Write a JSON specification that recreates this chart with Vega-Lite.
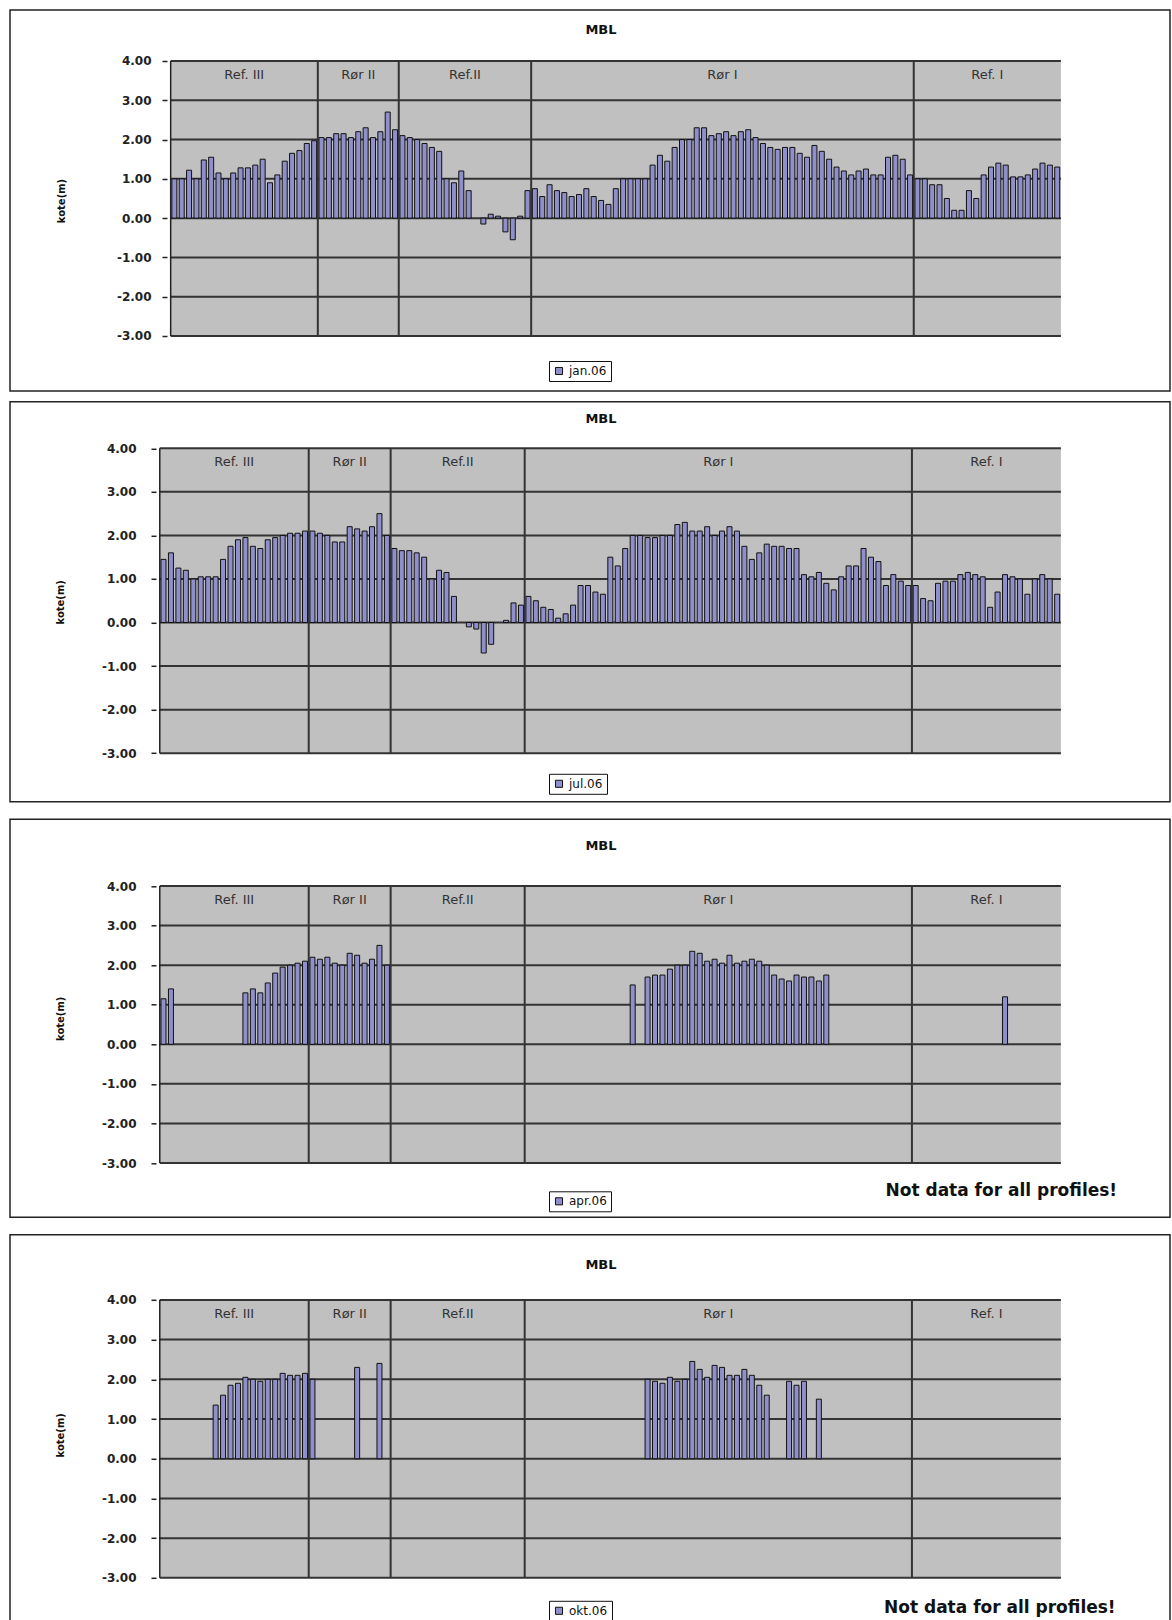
{
  "$schema": "https://vega.github.io/schema/vega-lite/v6.json",
  "background": "white",
  "padding": {"left": 9, "top": 9, "right": 3, "bottom": 0},
  "config": {"view": {"stroke": "#222", "strokeWidth": 1.5, "fill": "white"}, "font": "DejaVu Sans"},
  "datasets": {
    "profiles": [
      {"i":1,"s":"Ref. III","jan":1.0,"jul":1.45,"apr":1.15},
      {"i":2,"s":"Ref. III","jan":1.0,"jul":1.6,"apr":1.4},
      {"i":3,"s":"Ref. III","jan":1.22,"jul":1.25},
      {"i":4,"s":"Ref. III","jan":1.0,"jul":1.2},
      {"i":5,"s":"Ref. III","jan":1.48,"jul":1.0},
      {"i":6,"s":"Ref. III","jan":1.55,"jul":1.05},
      {"i":7,"s":"Ref. III","jan":1.15,"jul":1.05},
      {"i":8,"s":"Ref. III","jan":1.0,"jul":1.05,"okt":1.35},
      {"i":9,"s":"Ref. III","jan":1.15,"jul":1.45,"okt":1.6},
      {"i":10,"s":"Ref. III","jan":1.28,"jul":1.75,"okt":1.85},
      {"i":11,"s":"Ref. III","jan":1.28,"jul":1.9,"okt":1.9},
      {"i":12,"s":"Ref. III","jan":1.35,"jul":1.95,"apr":1.3,"okt":2.05},
      {"i":13,"s":"Ref. III","jan":1.5,"jul":1.75,"apr":1.4,"okt":2.0},
      {"i":14,"s":"Ref. III","jan":0.9,"jul":1.7,"apr":1.3,"okt":1.95},
      {"i":15,"s":"Ref. III","jan":1.1,"jul":1.9,"apr":1.55,"okt":2.0},
      {"i":16,"s":"Ref. III","jan":1.45,"jul":1.95,"apr":1.8,"okt":2.0},
      {"i":17,"s":"Ref. III","jan":1.65,"jul":2.0,"apr":1.95,"okt":2.15},
      {"i":18,"s":"Ref. III","jan":1.72,"jul":2.05,"apr":2.0,"okt":2.1},
      {"i":19,"s":"Ref. III","jan":1.9,"jul":2.05,"apr":2.05,"okt":2.1},
      {"i":20,"s":"Ref. III","jan":1.97,"jul":2.1,"apr":2.1,"okt":2.15},
      {"i":21,"s":"Rør II","jan":2.05,"jul":2.1,"apr":2.2,"okt":2.0},
      {"i":22,"s":"Rør II","jan":2.05,"jul":2.05,"apr":2.15},
      {"i":23,"s":"Rør II","jan":2.15,"jul":2.0,"apr":2.2},
      {"i":24,"s":"Rør II","jan":2.15,"jul":1.85,"apr":2.05},
      {"i":25,"s":"Rør II","jan":2.05,"jul":1.85,"apr":2.0},
      {"i":26,"s":"Rør II","jan":2.2,"jul":2.2,"apr":2.3},
      {"i":27,"s":"Rør II","jan":2.3,"jul":2.15,"apr":2.25,"okt":2.3},
      {"i":28,"s":"Rør II","jan":2.05,"jul":2.1,"apr":2.05},
      {"i":29,"s":"Rør II","jan":2.2,"jul":2.2,"apr":2.15},
      {"i":30,"s":"Rør II","jan":2.7,"jul":2.5,"apr":2.5,"okt":2.4},
      {"i":31,"s":"Rør II","jan":2.25,"jul":2.0,"apr":2.0},
      {"i":32,"s":"Ref.II","jan":2.1,"jul":1.7},
      {"i":33,"s":"Ref.II","jan":2.05,"jul":1.65},
      {"i":34,"s":"Ref.II","jan":2.0,"jul":1.65},
      {"i":35,"s":"Ref.II","jan":1.9,"jul":1.6},
      {"i":36,"s":"Ref.II","jan":1.8,"jul":1.5},
      {"i":37,"s":"Ref.II","jan":1.7,"jul":1.0},
      {"i":38,"s":"Ref.II","jan":1.0,"jul":1.2},
      {"i":39,"s":"Ref.II","jan":0.9,"jul":1.15},
      {"i":40,"s":"Ref.II","jan":1.2,"jul":0.6},
      {"i":41,"s":"Ref.II","jan":0.7},
      {"i":42,"s":"Ref.II","jul":-0.1},
      {"i":43,"s":"Ref.II","jan":-0.15,"jul":-0.15},
      {"i":44,"s":"Ref.II","jan":0.1,"jul":-0.7},
      {"i":45,"s":"Ref.II","jan":0.05,"jul":-0.5},
      {"i":46,"s":"Ref.II","jan":-0.35},
      {"i":47,"s":"Ref.II","jan":-0.55,"jul":0.05},
      {"i":48,"s":"Ref.II","jan":0.05,"jul":0.45},
      {"i":49,"s":"Ref.II","jan":0.7,"jul":0.4},
      {"i":50,"s":"Rør I","jan":0.75,"jul":0.6},
      {"i":51,"s":"Rør I","jan":0.55,"jul":0.5},
      {"i":52,"s":"Rør I","jan":0.85,"jul":0.35},
      {"i":53,"s":"Rør I","jan":0.7,"jul":0.3},
      {"i":54,"s":"Rør I","jan":0.65,"jul":0.1},
      {"i":55,"s":"Rør I","jan":0.55,"jul":0.2},
      {"i":56,"s":"Rør I","jan":0.6,"jul":0.4},
      {"i":57,"s":"Rør I","jan":0.75,"jul":0.85},
      {"i":58,"s":"Rør I","jan":0.55,"jul":0.85},
      {"i":59,"s":"Rør I","jan":0.45,"jul":0.7},
      {"i":60,"s":"Rør I","jan":0.35,"jul":0.65},
      {"i":61,"s":"Rør I","jan":0.75,"jul":1.5},
      {"i":62,"s":"Rør I","jan":1.0,"jul":1.3},
      {"i":63,"s":"Rør I","jan":1.0,"jul":1.7},
      {"i":64,"s":"Rør I","jan":1.0,"jul":2.0,"apr":1.5},
      {"i":65,"s":"Rør I","jan":1.0,"jul":2.0},
      {"i":66,"s":"Rør I","jan":1.35,"jul":1.95,"apr":1.7,"okt":2.0},
      {"i":67,"s":"Rør I","jan":1.6,"jul":1.95,"apr":1.75,"okt":1.95},
      {"i":68,"s":"Rør I","jan":1.45,"jul":2.0,"apr":1.75,"okt":1.9},
      {"i":69,"s":"Rør I","jan":1.8,"jul":2.0,"apr":1.9,"okt":2.05},
      {"i":70,"s":"Rør I","jan":2.0,"jul":2.25,"apr":2.0,"okt":1.95},
      {"i":71,"s":"Rør I","jan":2.0,"jul":2.3,"apr":2.0,"okt":2.0},
      {"i":72,"s":"Rør I","jan":2.3,"jul":2.1,"apr":2.35,"okt":2.45},
      {"i":73,"s":"Rør I","jan":2.3,"jul":2.1,"apr":2.3,"okt":2.25},
      {"i":74,"s":"Rør I","jan":2.1,"jul":2.2,"apr":2.1,"okt":2.05},
      {"i":75,"s":"Rør I","jan":2.15,"jul":2.0,"apr":2.15,"okt":2.35},
      {"i":76,"s":"Rør I","jan":2.2,"jul":2.1,"apr":2.05,"okt":2.3},
      {"i":77,"s":"Rør I","jan":2.1,"jul":2.2,"apr":2.25,"okt":2.1},
      {"i":78,"s":"Rør I","jan":2.2,"jul":2.1,"apr":2.05,"okt":2.1},
      {"i":79,"s":"Rør I","jan":2.25,"jul":1.75,"apr":2.1,"okt":2.25},
      {"i":80,"s":"Rør I","jan":2.05,"jul":1.45,"apr":2.15,"okt":2.1},
      {"i":81,"s":"Rør I","jan":1.9,"jul":1.6,"apr":2.1,"okt":1.85},
      {"i":82,"s":"Rør I","jan":1.8,"jul":1.8,"apr":2.0,"okt":1.6},
      {"i":83,"s":"Rør I","jan":1.75,"jul":1.75,"apr":1.75},
      {"i":84,"s":"Rør I","jan":1.8,"jul":1.75,"apr":1.65},
      {"i":85,"s":"Rør I","jan":1.8,"jul":1.7,"apr":1.6,"okt":1.95},
      {"i":86,"s":"Rør I","jan":1.65,"jul":1.7,"apr":1.75,"okt":1.85},
      {"i":87,"s":"Rør I","jan":1.55,"jul":1.1,"apr":1.7,"okt":1.95},
      {"i":88,"s":"Rør I","jan":1.85,"jul":1.05,"apr":1.7},
      {"i":89,"s":"Rør I","jan":1.7,"jul":1.15,"apr":1.6,"okt":1.5},
      {"i":90,"s":"Rør I","jan":1.5,"jul":0.9,"apr":1.75},
      {"i":91,"s":"Rør I","jan":1.3,"jul":0.75},
      {"i":92,"s":"Rør I","jan":1.2,"jul":1.05},
      {"i":93,"s":"Rør I","jan":1.1,"jul":1.3},
      {"i":94,"s":"Rør I","jan":1.2,"jul":1.3},
      {"i":95,"s":"Rør I","jan":1.25,"jul":1.7},
      {"i":96,"s":"Rør I","jan":1.1,"jul":1.5},
      {"i":97,"s":"Rør I","jan":1.1,"jul":1.4},
      {"i":98,"s":"Rør I","jan":1.55,"jul":0.85},
      {"i":99,"s":"Rør I","jan":1.6,"jul":1.1},
      {"i":100,"s":"Rør I","jan":1.5,"jul":0.95},
      {"i":101,"s":"Rør I","jan":1.1,"jul":0.85},
      {"i":102,"s":"Ref. I","jan":1.0,"jul":0.85},
      {"i":103,"s":"Ref. I","jan":1.0,"jul":0.55},
      {"i":104,"s":"Ref. I","jan":0.85,"jul":0.5},
      {"i":105,"s":"Ref. I","jan":0.85,"jul":0.9},
      {"i":106,"s":"Ref. I","jan":0.5,"jul":0.95},
      {"i":107,"s":"Ref. I","jan":0.2,"jul":0.95},
      {"i":108,"s":"Ref. I","jan":0.2,"jul":1.1},
      {"i":109,"s":"Ref. I","jan":0.7,"jul":1.15},
      {"i":110,"s":"Ref. I","jan":0.5,"jul":1.1},
      {"i":111,"s":"Ref. I","jan":1.1,"jul":1.05},
      {"i":112,"s":"Ref. I","jan":1.3,"jul":0.35},
      {"i":113,"s":"Ref. I","jan":1.4,"jul":0.7},
      {"i":114,"s":"Ref. I","jan":1.35,"jul":1.1,"apr":1.2},
      {"i":115,"s":"Ref. I","jan":1.05,"jul":1.05},
      {"i":116,"s":"Ref. I","jan":1.05,"jul":1.0},
      {"i":117,"s":"Ref. I","jan":1.1,"jul":0.65},
      {"i":118,"s":"Ref. I","jan":1.25,"jul":1.0},
      {"i":119,"s":"Ref. I","jan":1.4,"jul":1.1},
      {"i":120,"s":"Ref. I","jan":1.35,"jul":1.0},
      {"i":121,"s":"Ref. I","jan":1.3,"jul":0.65}
    ],
    "grid": [{"g":-3},{"g":-2},{"g":-1},{"g":0},{"g":1},{"g":2},{"g":3},{"g":4}],
    "bounds": [{"b":20.5},{"b":31.5},{"b":49.5},{"b":101.5}]
  },
  "spacing": 15.3,
  "resolve": {"scale": {"x": "independent", "y": "independent", "color": "independent"}, "legend": {"color": "independent"}},
  "vconcat": [
   {
    "spacing": 8.8,
    "resolve": {"scale": {"x": "independent", "y": "independent", "color": "independent"}, "legend": {"color": "independent"}},
    "vconcat": [
    {
      "width": 1160, "height": 381,
      "title": {"text": "MBL", "offset": -33, "baseline": "middle", "anchor": "middle", "dx": 11, "font": "DejaVu Sans", "fontSize": 13, "fontWeight": "bold", "color": "#111"},
      "layer": [
        {"data": {"values": [{}]}, "mark": {"type": "rect", "fill": "#c0c0c0"},
         "encoding": {
           "x": {"datum": 0.5, "type": "quantitative", "scale": {"domain": [-20.66, 135.65], "nice": false, "zero": false}, "axis": null},
           "x2": {"datum": 121.5},
           "y": {"datum": -3, "type": "quantitative", "scale": {"domain": [-4.400, 5.298], "nice": false, "zero": false},
                 "axis": {"values": [-3,-2,-1,0,1,2,3,4], "labelExpr": "replace(format(datum.value, '.2f'), '\u2212', '-')", "offset": -157, "zindex": 2, "domain": false, "grid": false, "tickSize": 5, "tickColor": "#222", "tickWidth": 1.5, "labelPadding": 11, "labelFont": "DejaVu Sans", "labelFontSize": 12, "labelFontWeight": "bold", "labelColor": "#222", "title": "kote(m)", "titleFont": "DejaVu Sans", "titleFontSize": 10, "titleFontWeight": "bold", "titleColor": "#111", "titlePadding": 50}},
           "y2": {"datum": 4}
         }},
        {"data": {"name": "grid"}, "mark": {"type": "rule", "stroke": "#333", "strokeWidth": 2},
         "encoding": {"y": {"field": "g", "type": "quantitative"}, "x": {"datum": 0.5, "type": "quantitative", "axis": null}, "x2": {"datum": 121.5}}},
        {"data": {"name": "profiles"}, "transform": [{"filter": "isValid(datum.jan)"}],
         "mark": {"type": "bar", "width": 5, "stroke": "#111", "strokeWidth": 1},
         "encoding": {
           "x": {"field": "i", "type": "quantitative", "axis": null},
           "y": {"field": "jan", "type": "quantitative"},
           "color": {"datum": "jan.06", "scale": {"range": ["#8f8fcb"]},
                     "legend": {"orient": "none", "legendX": 539, "legendY": 351, "title": null, "strokeColor": "#111", "fillColor": "white", "padding": 4, "symbolType": "square", "symbolSize": 50, "symbolStrokeColor": "#111", "symbolStrokeWidth": 1, "labelFont": "DejaVu Sans", "labelFontSize": 12, "labelColor": "#111"}}
         }},
        {"data": {"name": "bounds"}, "mark": {"type": "rule", "stroke": "#333", "strokeWidth": 2},
         "encoding": {"x": {"field": "b", "type": "quantitative", "axis": null}, "y": {"datum": -3, "type": "quantitative"}, "y2": {"datum": 4}}},
        {"data": {"values": [{}]}, "mark": {"type": "rule", "stroke": "#222", "strokeWidth": 1.5},
         "encoding": {"x": {"datum": 0.5, "type": "quantitative", "axis": null}, "y": {"datum": -3, "type": "quantitative"}, "y2": {"datum": 4}}},
        {"data": {"name": "profiles"}, "mark": {"type": "text", "font": "DejaVu Sans", "fontSize": 13, "color": "#333", "baseline": "middle"},
         "encoding": {"x": {"aggregate": "mean", "field": "i", "type": "quantitative", "axis": null}, "y": {"datum": 3.65, "type": "quantitative"}, "text": {"field": "s", "type": "nominal"}}}
      ]
    },
    {
      "width": 1160, "height": 400,
      "title": {"text": "MBL", "offset": -30.6, "baseline": "middle", "anchor": "middle", "dx": 11, "font": "DejaVu Sans", "fontSize": 13, "fontWeight": "bold", "color": "#111"},
      "layer": [
        {"data": {"values": [{}]}, "mark": {"type": "rect", "fill": "#c0c0c0"},
         "encoding": {
           "x": {"datum": 0.5, "type": "quantitative", "scale": {"domain": [-18.94, 135.48], "nice": false, "zero": false}, "axis": null},
           "x2": {"datum": 121.5},
           "y": {"datum": -3, "type": "quantitative", "scale": {"domain": [-4.116, 5.068], "nice": false, "zero": false},
                 "axis": {"values": [-3,-2,-1,0,1,2,3,4], "labelExpr": "replace(format(datum.value, '.2f'), '\u2212', '-')", "offset": -146, "zindex": 2, "domain": false, "grid": false, "tickSize": 5, "tickColor": "#222", "tickWidth": 1.5, "labelPadding": 15, "labelFont": "DejaVu Sans", "labelFontSize": 12, "labelFontWeight": "bold", "labelColor": "#222", "title": "kote(m)", "titleFont": "DejaVu Sans", "titleFontSize": 10, "titleFontWeight": "bold", "titleColor": "#111", "titlePadding": 36}},
           "y2": {"datum": 4}
         }},
        {"data": {"name": "grid"}, "mark": {"type": "rule", "stroke": "#333", "strokeWidth": 2},
         "encoding": {"y": {"field": "g", "type": "quantitative"}, "x": {"datum": 0.5, "type": "quantitative", "axis": null}, "x2": {"datum": 121.5}}},
        {"data": {"name": "profiles"}, "transform": [{"filter": "isValid(datum.jul)"}],
         "mark": {"type": "bar", "width": 5, "stroke": "#111", "strokeWidth": 1},
         "encoding": {
           "x": {"field": "i", "type": "quantitative", "axis": null},
           "y": {"field": "jul", "type": "quantitative"},
           "color": {"datum": "jul.06", "scale": {"range": ["#8f8fcb"]},
                     "legend": {"orient": "none", "legendX": 539, "legendY": 372, "title": null, "strokeColor": "#111", "fillColor": "white", "padding": 4, "symbolType": "square", "symbolSize": 50, "symbolStrokeColor": "#111", "symbolStrokeWidth": 1, "labelFont": "DejaVu Sans", "labelFontSize": 12, "labelColor": "#111"}}
         }},
        {"data": {"name": "bounds"}, "mark": {"type": "rule", "stroke": "#333", "strokeWidth": 2},
         "encoding": {"x": {"field": "b", "type": "quantitative", "axis": null}, "y": {"datum": -3, "type": "quantitative"}, "y2": {"datum": 4}}},
        {"data": {"values": [{}]}, "mark": {"type": "rule", "stroke": "#222", "strokeWidth": 1.5},
         "encoding": {"x": {"datum": 0.5, "type": "quantitative", "axis": null}, "y": {"datum": -3, "type": "quantitative"}, "y2": {"datum": 4}}},
        {"data": {"name": "profiles"}, "mark": {"type": "text", "font": "DejaVu Sans", "fontSize": 13, "color": "#333", "baseline": "middle"},
         "encoding": {"x": {"aggregate": "mean", "field": "i", "type": "quantitative", "axis": null}, "y": {"datum": 3.68, "type": "quantitative"}, "text": {"field": "s", "type": "nominal"}}}
      ]
    }
    ]
   },
   {
    "spacing": 15.5,
    "resolve": {"scale": {"x": "independent", "y": "independent", "color": "independent"}, "legend": {"color": "independent"}},
    "vconcat": [
    {
      "width": 1160, "height": 398,
      "title": {"text": "MBL", "offset": -39.4, "baseline": "middle", "anchor": "middle", "dx": 11, "font": "DejaVu Sans", "fontSize": 13, "fontWeight": "bold", "color": "#111"},
      "layer": [
        {"data": {"values": [{}]}, "mark": {"type": "rect", "fill": "#c0c0c0"},
         "encoding": {
           "x": {"datum": 0.5, "type": "quantitative", "scale": {"domain": [-18.94, 135.48], "nice": false, "zero": false}, "axis": null},
           "x2": {"datum": 121.5},
           "y": {"datum": -3, "type": "quantitative", "scale": {"domain": [-4.372, 5.686], "nice": false, "zero": false},
                 "axis": {"values": [-3,-2,-1,0,1,2,3,4], "labelExpr": "replace(format(datum.value, '.2f'), '\u2212', '-')", "offset": -146, "zindex": 2, "domain": false, "grid": false, "tickSize": 5, "tickColor": "#222", "tickWidth": 1.5, "labelPadding": 15, "labelFont": "DejaVu Sans", "labelFontSize": 12, "labelFontWeight": "bold", "labelColor": "#222", "title": "kote(m)", "titleFont": "DejaVu Sans", "titleFontSize": 10, "titleFontWeight": "bold", "titleColor": "#111", "titlePadding": 36}},
           "y2": {"datum": 4}
         }},
        {"data": {"name": "grid"}, "mark": {"type": "rule", "stroke": "#333", "strokeWidth": 2},
         "encoding": {"y": {"field": "g", "type": "quantitative"}, "x": {"datum": 0.5, "type": "quantitative", "axis": null}, "x2": {"datum": 121.5}}},
        {"data": {"name": "profiles"}, "transform": [{"filter": "isValid(datum.apr)"}],
         "mark": {"type": "bar", "width": 5, "stroke": "#111", "strokeWidth": 1},
         "encoding": {
           "x": {"field": "i", "type": "quantitative", "axis": null},
           "y": {"field": "apr", "type": "quantitative"},
           "color": {"datum": "apr.06", "scale": {"range": ["#8f8fcb"]},
                     "legend": {"orient": "none", "legendX": 539, "legendY": 372, "title": null, "strokeColor": "#111", "fillColor": "white", "padding": 4, "symbolType": "square", "symbolSize": 50, "symbolStrokeColor": "#111", "symbolStrokeWidth": 1, "labelFont": "DejaVu Sans", "labelFontSize": 12, "labelColor": "#111"}}
         }},
        {"data": {"name": "bounds"}, "mark": {"type": "rule", "stroke": "#333", "strokeWidth": 2},
         "encoding": {"x": {"field": "b", "type": "quantitative", "axis": null}, "y": {"datum": -3, "type": "quantitative"}, "y2": {"datum": 4}}},
        {"data": {"values": [{}]}, "mark": {"type": "rule", "stroke": "#222", "strokeWidth": 1.5},
         "encoding": {"x": {"datum": 0.5, "type": "quantitative", "axis": null}, "y": {"datum": -3, "type": "quantitative"}, "y2": {"datum": 4}}},
        {"data": {"name": "profiles"}, "mark": {"type": "text", "font": "DejaVu Sans", "fontSize": 13, "color": "#333", "baseline": "middle"},
         "encoding": {"x": {"aggregate": "mean", "field": "i", "type": "quantitative", "axis": null}, "y": {"datum": 3.65, "type": "quantitative"}, "text": {"field": "s", "type": "nominal"}}},
        {"data": {"values": [{}]}, "mark": {"type": "text", "font": "DejaVu Sans", "fontSize": 17, "fontWeight": "bold", "color": "#111", "baseline": "middle", "align": "center"},
         "encoding": {"x": {"datum": 113.5, "type": "quantitative", "axis": null}, "y": {"datum": -3.7, "type": "quantitative"}, "text": {"value": "Not data for all profiles!"}}}
      ]
    },
    {
      "width": 1160, "height": 400,
      "title": {"text": "MBL", "offset": -43, "baseline": "middle", "anchor": "middle", "dx": 11, "font": "DejaVu Sans", "fontSize": 13, "fontWeight": "bold", "color": "#111"},
      "layer": [
        {"data": {"values": [{}]}, "mark": {"type": "rect", "fill": "#c0c0c0"},
         "encoding": {
           "x": {"datum": 0.5, "type": "quantitative", "scale": {"domain": [-18.94, 135.48], "nice": false, "zero": false}, "axis": null},
           "x2": {"datum": 121.5},
           "y": {"datum": -3, "type": "quantitative", "scale": {"domain": [-4.434, 5.639], "nice": false, "zero": false},
                 "axis": {"values": [-3,-2,-1,0,1,2,3,4], "labelExpr": "replace(format(datum.value, '.2f'), '\u2212', '-')", "offset": -146, "zindex": 2, "domain": false, "grid": false, "tickSize": 5, "tickColor": "#222", "tickWidth": 1.5, "labelPadding": 15, "labelFont": "DejaVu Sans", "labelFontSize": 12, "labelFontWeight": "bold", "labelColor": "#222", "title": "kote(m)", "titleFont": "DejaVu Sans", "titleFontSize": 10, "titleFontWeight": "bold", "titleColor": "#111", "titlePadding": 36}},
           "y2": {"datum": 4}
         }},
        {"data": {"name": "grid"}, "mark": {"type": "rule", "stroke": "#333", "strokeWidth": 2},
         "encoding": {"y": {"field": "g", "type": "quantitative"}, "x": {"datum": 0.5, "type": "quantitative", "axis": null}, "x2": {"datum": 121.5}}},
        {"data": {"name": "profiles"}, "transform": [{"filter": "isValid(datum.okt)"}],
         "mark": {"type": "bar", "width": 5, "stroke": "#111", "strokeWidth": 1},
         "encoding": {
           "x": {"field": "i", "type": "quantitative", "axis": null},
           "y": {"field": "okt", "type": "quantitative"},
           "color": {"datum": "okt.06", "scale": {"range": ["#8f8fcb"]},
                     "legend": {"orient": "none", "legendX": 539, "legendY": 366, "title": null, "strokeColor": "#111", "fillColor": "white", "padding": 4, "symbolType": "square", "symbolSize": 50, "symbolStrokeColor": "#111", "symbolStrokeWidth": 1, "labelFont": "DejaVu Sans", "labelFontSize": 12, "labelColor": "#111"}}
         }},
        {"data": {"name": "bounds"}, "mark": {"type": "rule", "stroke": "#333", "strokeWidth": 2},
         "encoding": {"x": {"field": "b", "type": "quantitative", "axis": null}, "y": {"datum": -3, "type": "quantitative"}, "y2": {"datum": 4}}},
        {"data": {"values": [{}]}, "mark": {"type": "rule", "stroke": "#222", "strokeWidth": 1.5},
         "encoding": {"x": {"datum": 0.5, "type": "quantitative", "axis": null}, "y": {"datum": -3, "type": "quantitative"}, "y2": {"datum": 4}}},
        {"data": {"name": "profiles"}, "mark": {"type": "text", "font": "DejaVu Sans", "fontSize": 13, "color": "#333", "baseline": "middle"},
         "encoding": {"x": {"aggregate": "mean", "field": "i", "type": "quantitative", "axis": null}, "y": {"datum": 3.65, "type": "quantitative"}, "text": {"field": "s", "type": "nominal"}}},
        {"data": {"values": [{}]}, "mark": {"type": "text", "font": "DejaVu Sans", "fontSize": 17, "fontWeight": "bold", "color": "#111", "baseline": "middle", "align": "center"},
         "encoding": {"x": {"datum": 113.3, "type": "quantitative", "axis": null}, "y": {"datum": -3.75, "type": "quantitative"}, "text": {"value": "Not data for all profiles!"}}}
      ]
    }
    ]
   }
  ]
}
